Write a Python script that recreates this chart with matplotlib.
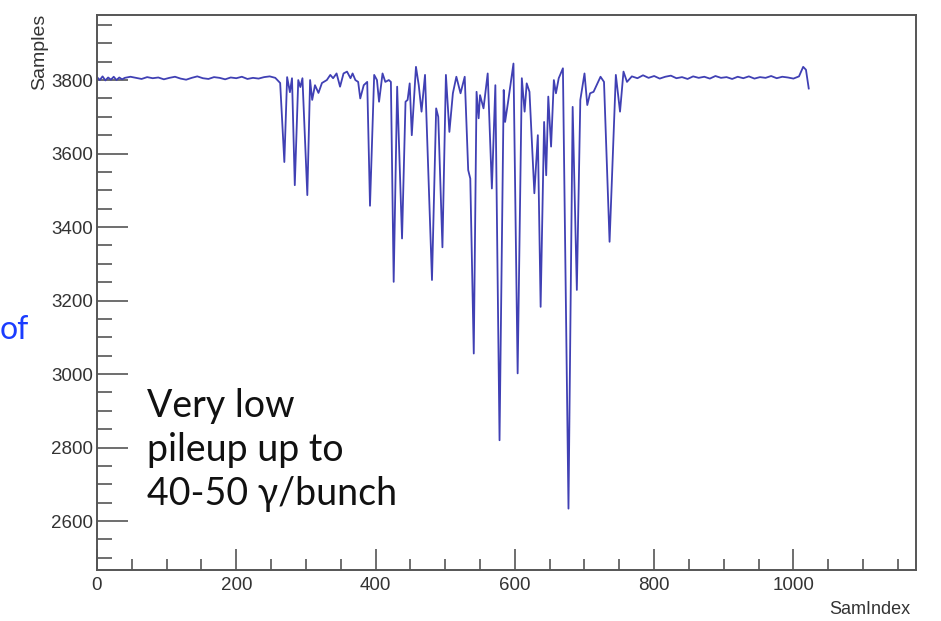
import matplotlib
matplotlib.use("Agg")
import matplotlib.pyplot as plt
from matplotlib.ticker import MultipleLocator

# ---- data ----
base_left_x = [0, 4, 8, 12, 16, 20, 24, 28, 32, 36, 40, 48, 56, 64, 72, 80, 88, 96, 104, 112, 120, 128,
               136, 144, 152, 160, 168, 176, 184, 192, 200, 208, 216, 224, 232, 240, 248, 256]
base_left_y = [3808, 3800, 3810, 3799, 3807, 3801, 3809, 3800, 3807, 3802, 3806, 3809, 3806, 3803,
               3808, 3805, 3807, 3802, 3806, 3809, 3804, 3801, 3806, 3810, 3805, 3803, 3808, 3806,
               3802, 3807, 3805, 3809, 3803, 3806, 3804, 3808, 3810, 3806]

pulse_x = [263, 269, 273, 277, 280, 284, 289, 292, 295, 302, 306, 309, 313, 318, 323, 330, 335,
           339, 344, 349, 354, 359, 364, 367, 371, 375, 378, 383, 388, 392, 398, 402, 405, 410,
           414, 419, 422, 426, 431, 438, 443, 446, 449, 452, 458, 462, 466, 471, 481, 487, 490,
           496, 501, 506, 511, 516, 522, 528, 533, 536, 541, 545, 548, 550, 555, 561, 567, 572,
           578, 584, 586, 590, 598, 604, 610, 614, 617, 621, 628, 633, 637, 642, 645, 648, 652,
           656, 659, 663, 669, 677, 683, 689, 694, 700, 704, 708, 713, 723, 728, 736, 745, 751,
           756, 761]
pulse_y = [3792, 3577, 3808, 3767, 3805, 3514, 3800, 3781, 3805, 3487, 3800, 3746, 3786, 3765,
           3792, 3800, 3814, 3805, 3818, 3782, 3818, 3823, 3805, 3818, 3800, 3795, 3750, 3786,
           3795, 3458, 3814, 3800, 3741, 3818, 3795, 3800, 3795, 3251, 3782, 3369, 3741, 3746,
           3791, 3650, 3836, 3786, 3714, 3814, 3256, 3723, 3700, 3345, 3814, 3659, 3764, 3809,
           3764, 3809, 3555, 3532, 3056, 3768, 3696, 3759, 3723, 3818, 3505, 3786, 2820, 3773,
           3686, 3737, 3845, 3002, 3805, 3714, 3791, 3768, 3492, 3650, 3183, 3686, 3541, 3755,
           3619, 3800, 3764, 3805, 3832, 2634, 3727, 3229, 3746, 3818, 3732, 3764, 3768, 3809,
           3795, 3360, 3814, 3714, 3823, 3795]

base_right_x = [768, 776, 784, 792, 800, 808, 816, 824, 832, 840, 848, 856, 864, 872, 880, 888,
                896, 904, 912, 920, 928, 936, 944, 952, 960, 968, 976, 984, 992, 1000, 1008,
                1014, 1018, 1022]
base_right_y = [3810, 3805, 3813, 3806, 3811, 3804, 3809, 3812, 3805, 3808, 3803, 3810, 3806,
                3809, 3804, 3811, 3806, 3808, 3803, 3809, 3805, 3810, 3804, 3808, 3806, 3811,
                3805, 3809, 3807, 3804, 3810, 3836, 3828, 3777]

x_range = (0, 1176)
y_range = (2467, 3977)
x_major, x_minor = 200, 50
y_major, y_minor = 200, 50

xs = base_left_x + pulse_x + base_right_x
ys = base_left_y + pulse_y + base_right_y

# ---- figure ----
fig = plt.figure(figsize=(9.41, 6.21), dpi=100)
ax = fig.add_axes([97 / 941, 1 - 570 / 621, (916 - 97) / 941, (570 - 15) / 621])

ax.plot(xs, ys, color="#4040b4", lw=1.3, solid_joinstyle="round")

ax.set_xlim(*x_range)
ax.set_ylim(*y_range)
ax.xaxis.set_major_locator(MultipleLocator(x_major))
ax.xaxis.set_minor_locator(MultipleLocator(x_minor))
ax.yaxis.set_major_locator(MultipleLocator(y_major))
ax.yaxis.set_minor_locator(MultipleLocator(y_minor))

frame_c = "#555555"
for s in ax.spines.values():
    s.set_color(frame_c)
    s.set_linewidth(1.4)

label_font = ["Liberation Sans", "DejaVu Sans"]
ax.tick_params(axis="both", which="both", direction="in", colors=frame_c,
               labelcolor="#333333", top=False, right=False, width=1.2)
ax.tick_params(axis="x", which="major", length=15, pad=5, labelsize=13.5)
ax.tick_params(axis="x", which="minor", length=8)
ax.tick_params(axis="y", which="major", length=22, pad=3, labelsize=13.5)
ax.tick_params(axis="y", which="minor", length=11)
for lab in ax.get_xticklabels() + ax.get_yticklabels():
    lab.set_family(label_font)

fig.text(910 / 941, 1 - 610 / 621, "SamIndex", ha="right", va="center",
         fontsize=13, color="#333333", family=label_font)
fig.text(40 / 941, 1 - 14 / 621, "Samples", ha="center", va="top", rotation=90,
         fontsize=14, color="#333333", family=label_font)

ann_font = ["Lato", "DejaVu Sans"]
fig.text(147 / 941, 1 - 388 / 621, "Very low\npileup up to\n40-50 \u03b3/bunch",
         ha="left", va="top", fontsize=27, color="#111111", family=ann_font,
         linespacing=1.27)
fig.text(0, 1 - 330 / 621, "of", ha="left", va="center", fontsize=23,
         color="#1a3cff", family=ann_font)

fig.savefig("out.png", dpi=100)
